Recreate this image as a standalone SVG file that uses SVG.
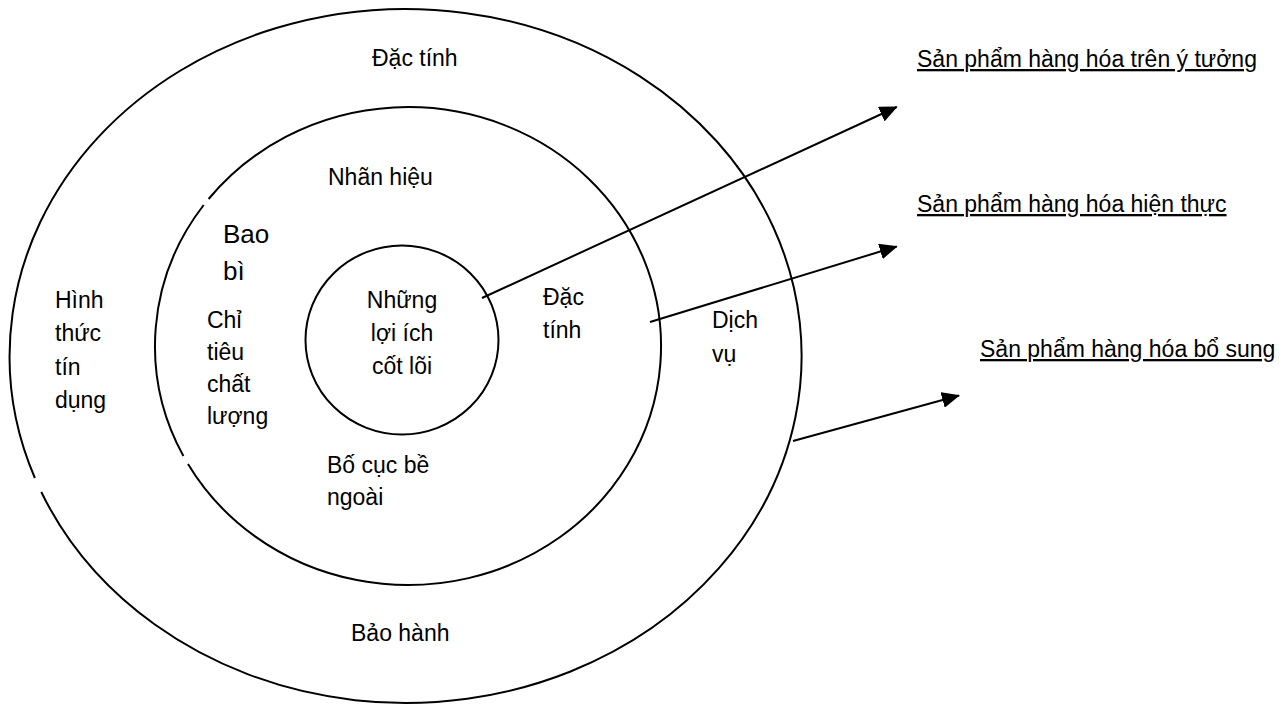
<svg xmlns="http://www.w3.org/2000/svg" width="1288" height="706" viewBox="0 0 1288 706">
  <style>
    .ring { fill: none; stroke: #000; stroke-width: 2; }
    .lbl { font-family: "Liberation Sans", Arial, sans-serif; font-size: 23px; fill: #000; }
    .big { font-size: 26px; }
    .title { text-decoration: underline; }
    .conn { stroke: #000; stroke-width: 2; fill: none; marker-end: url(#arrow); }
  </style>
  <defs>
    <marker id="arrow" markerUnits="userSpaceOnUse" markerWidth="18" markerHeight="16" viewBox="0 0 18 16" refX="17" refY="8" orient="auto">
      <path d="M0,0 L18,8 L0,16 z" fill="#000"/>
    </marker>
  </defs>

  <!-- outer ring: augmented product -->
  <g id="outer-ring">
    <path class="ring" d="M 34.9 478 A 396 347 0 1 1 41.3 492"/>
    <text class="lbl" x="372" y="66">Đặc tính</text>
    <text class="lbl" x="55" y="308">Hình</text>
    <text class="lbl" x="55" y="341">thức</text>
    <text class="lbl" x="55" y="375">tín</text>
    <text class="lbl" x="55" y="408">dụng</text>
    <text class="lbl" x="712" y="328">Dịch</text>
    <text class="lbl" x="712" y="362">vụ</text>
    <text class="lbl" x="351" y="641">Bảo hành</text>
  </g>

  <!-- middle ring: actual product -->
  <g id="middle-ring">
    <path class="ring" d="M 183.4 456 A 253 239 0 0 1 203.7 205 M 208.6 199 A 253 239 0 1 1 188 464"/>
    <text class="lbl" x="328" y="185">Nhãn hiệu</text>
    <text class="lbl big" x="223" y="243">Bao</text>
    <text class="lbl big" x="223" y="280">bì</text>
    <text class="lbl" x="207" y="328">Chỉ</text>
    <text class="lbl" x="207" y="360">tiêu</text>
    <text class="lbl" x="207" y="392">chất</text>
    <text class="lbl" x="207" y="424">lượng</text>
    <text class="lbl" x="543" y="305">Đặc</text>
    <text class="lbl" x="543" y="338">tính</text>
    <text class="lbl" x="327" y="473">Bố cục bề</text>
    <text class="lbl" x="327" y="505">ngoài</text>
  </g>

  <!-- inner circle: core benefit -->
  <g id="core">
    <ellipse class="ring" cx="402" cy="340" rx="96.5" ry="94.5"/>
    <text class="lbl" x="402" y="308" text-anchor="middle">Những</text>
    <text class="lbl" x="402" y="341" text-anchor="middle">lợi ích</text>
    <text class="lbl" x="402" y="374" text-anchor="middle">cốt lõi</text>
  </g>

  <!-- level captions -->
  <g id="caption-idea">
    <text class="lbl title" x="917" y="67">Sản phẩm hàng hóa trên ý tưởng</text>
  </g>
  <g id="caption-actual">
    <text class="lbl title" x="917" y="212">Sản phẩm hàng hóa hiện thực</text>
  </g>
  <g id="caption-augmented">
    <text class="lbl title" x="980" y="357">Sản phẩm hàng hóa bổ sung</text>
  </g>

  <!-- connectors -->
  <g id="connectors">
    <line class="conn" x1="482" y1="298" x2="896.7" y2="107"/>
    <line class="conn" x1="650" y1="322" x2="896.7" y2="246.5"/>
    <line class="conn" x1="793" y1="441" x2="959" y2="395.5"/>
  </g>
</svg>
